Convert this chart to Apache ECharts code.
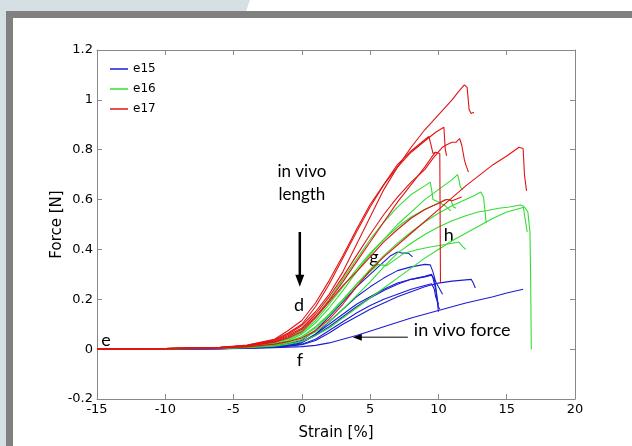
<!DOCTYPE html>
<html>
<head>
<meta charset="utf-8">
<script src="https://cdn.jsdelivr.net/npm/echarts/dist/echarts.min.js"></script>
<style>
  html, body { margin: 0; padding: 0; background: #fff; }
  #chart { width: 632px; height: 446px; }
</style>
</head>
<body>
<div id="chart"></div>
<script>
// tick values
const xTicks = [-15, -10, -5, 0, 5, 10, 15, 20];
const yTicks = [-0.2, 0, 0.2, 0.4, 0.6, 0.8, 1, 1.2];

// e15 curves [strain %, force N]
const b1 = [[-15,0],[-10,0.001],[-6,0.003],[-4,0.007],[-2,0.015],[-1,0.022],[0,0.035],[1,0.075],[2,0.13],[3,0.19],[4,0.25],[5,0.3],[6,0.35],[6.5,0.375],[7,0.39],[7.4,0.385],[7.8,0.385],[8.1,0.37]];
const b2 = [[-15,0],[-10,0.001],[-6,0.003],[-4,0.006],[-2,0.012],[-1,0.018],[0,0.03],[1,0.06],[2,0.1],[3,0.14],[4,0.18],[5,0.21],[6,0.24],[7,0.265],[8,0.28],[9,0.29],[9.5,0.297],[9.7,0.28],[9.8,0.25],[9.9,0.21],[10,0.17],[10.1,0.16]];
const b3 = [[-15,0],[-10,0.001],[-6,0.002],[-4,0.005],[-2,0.01],[-1,0.015],[0,0.025],[1,0.06],[2,0.11],[3,0.16],[4,0.21],[5,0.25],[6,0.285],[7,0.315],[8,0.33],[9,0.34],[9.4,0.338],[9.6,0.31],[9.8,0.27],[10,0.25],[10.3,0.22]];
const b4 = [[-15,0],[-10,0.001],[-6,0.002],[-4,0.004],[-2,0.008],[-1,0.012],[0,0.018],[1,0.035],[2,0.065],[3,0.1],[4,0.13],[5,0.16],[6,0.185],[7,0.21],[8,0.23],[9,0.25],[10,0.265],[11,0.273],[12,0.278],[12.4,0.28],[12.55,0.265],[12.7,0.245]];
const b5 = [[-15,0],[-10,0.001],[-6,0.002],[-4,0.003],[-2,0.006],[-1,0.008],[0,0.01],[1,0.015],[2,0.025],[3,0.04],[4,0.055],[6,0.09],[8,0.125],[10,0.155],[12,0.185],[14,0.21],[15,0.225],[16.2,0.24]];
const b6 = [[-15,0],[-10,0.001],[-6,0.002],[-4,0.005],[-2,0.01],[-1,0.014],[0,0.02],[1,0.04],[2,0.075],[3,0.11],[4,0.145],[5,0.175],[6,0.2],[7,0.22],[8,0.24],[9,0.255],[9.5,0.262],[9.7,0.24],[9.8,0.21],[10,0.18]];
const b7 = [[-15,0],[-10,0.001],[-6,0.003],[-4,0.006],[-2,0.012],[-1,0.018],[0,0.028],[1,0.055],[2,0.09],[3,0.13],[4,0.17],[5,0.205],[6,0.235],[7,0.26],[8,0.28],[9,0.292],[9.5,0.3],[9.6,0.285],[9.7,0.29],[9.8,0.24],[9.9,0.2],[10,0.15]];

// e16 curves
const g1 = [[-15,0],[-10,0.002],[-6,0.006],[-4,0.012],[-2,0.028],[-1,0.045],[0,0.075],[1,0.13],[2,0.2],[3,0.28],[4,0.36],[5,0.44],[6,0.51],[7,0.57],[8,0.62],[9,0.655],[9.4,0.67],[9.5,0.64],[9.6,0.6],[10,0.59],[10.5,0.575],[10.9,0.555]];
const g2 = [[-15,0],[-10,0.002],[-6,0.005],[-4,0.01],[-2,0.022],[-1,0.035],[0,0.06],[1,0.105],[2,0.165],[3,0.235],[4,0.31],[5,0.38],[6,0.44],[7,0.5],[8,0.55],[9,0.6],[10,0.64],[11,0.68],[11.4,0.7],[11.5,0.68],[11.6,0.65],[11.8,0.64]];
const g3 = [[-15,0],[-10,0.002],[-6,0.005],[-4,0.009],[-2,0.02],[-1,0.03],[0,0.05],[1,0.085],[2,0.135],[3,0.195],[4,0.26],[5,0.32],[6,0.375],[7,0.425],[8,0.47],[9,0.51],[10,0.545],[11,0.575],[12,0.6],[12.6,0.615],[13.1,0.63],[13.3,0.61],[13.4,0.56],[13.5,0.505]];
const g4 = [[-15,0],[-10,0.002],[-6,0.004],[-4,0.008],[-2,0.016],[-1,0.025],[0,0.04],[1,0.07],[2,0.11],[3,0.16],[4,0.215],[5,0.27],[6,0.33],[7,0.385],[8,0.425],[9,0.46],[10,0.49],[11,0.515],[12,0.535],[12.9,0.55],[13.5,0.555],[14.4,0.565],[15.2,0.57],[16,0.578],[16.2,0.575],[16.3,0.54],[16.5,0.47]];
const g5 = [[-15,0],[-10,0.001],[-6,0.003],[-4,0.006],[-2,0.012],[-1,0.02],[0,0.03],[1,0.055],[2,0.085],[3,0.125],[4,0.165],[5,0.205],[6,0.245],[7,0.285],[8,0.325],[9,0.365],[10,0.4],[11,0.435],[12,0.465],[13,0.495],[14,0.525],[15,0.55],[16,0.565],[16.3,0.57],[16.55,0.55],[16.7,0.47],[16.75,0.3],[16.8,0]];
const g6 = [[-15,0],[-10,0.002],[-6,0.005],[-4,0.01],[-2,0.02],[-1,0.032],[0,0.05],[1,0.09],[2,0.14],[3,0.2],[4,0.26],[5,0.31],[5.6,0.34],[6.2,0.335],[6.6,0.35],[7.5,0.385],[8.5,0.4],[9.4,0.41],[10.5,0.42],[11.5,0.43],[11.7,0.415],[12,0.4]];
const g7 = [[-15,0],[-10,0.002],[-6,0.006],[-4,0.012],[-2,0.026],[-1,0.04],[0,0.065],[1,0.115],[2,0.18],[3,0.25],[4,0.32],[5,0.385],[6,0.44],[7,0.49],[8,0.53],[9,0.56],[10,0.585],[10.5,0.6],[10.9,0.6],[11.1,0.57],[11.3,0.565]];

// e17 curves
const r1 = [[-15,0],[-10,0.002],[-6,0.006],[-4,0.014],[-2,0.035],[-1,0.06],[0,0.095],[1,0.15],[2,0.22],[3,0.31],[4,0.42],[5,0.53],[6,0.64],[7,0.73],[8,0.81],[9,0.88],[10,0.94],[11,1.0],[11.5,1.035],[11.9,1.06],[12.1,1.05],[12.25,0.96],[12.4,0.945],[12.6,0.95]];
const r2 = [[-15,0],[-10,0.002],[-6,0.007],[-4,0.016],[-2,0.04],[-1,0.075],[0,0.115],[1,0.185],[2,0.275],[3,0.375],[4,0.48],[5,0.58],[6,0.66],[7,0.73],[8,0.79],[9,0.835],[9.8,0.87],[10.4,0.89],[10.5,0.8],[10.6,0.775]];
const r3 = [[-15,0],[-10,0.002],[-6,0.006],[-4,0.015],[-2,0.038],[-1,0.065],[0,0.1],[1,0.17],[2,0.26],[3,0.365],[4,0.47],[5,0.57],[6,0.66],[7,0.74],[8,0.795],[9,0.84],[9.3,0.853],[9.45,0.82],[9.6,0.785],[9.8,0.79],[10.1,0.785],[10.15,0.265]];
const r4 = [[-15,0],[-10,0.001],[-6,0.004],[-4,0.009],[-2,0.02],[-1,0.03],[0,0.045],[1,0.075],[2,0.12],[3,0.18],[4,0.25],[5,0.315],[6,0.37],[8,0.465],[10,0.56],[12,0.655],[14,0.74],[15,0.775],[15.9,0.81],[16.2,0.805],[16.3,0.7],[16.45,0.635]];
const r5 = [[-15,0],[-10,0.002],[-6,0.005],[-4,0.012],[-2,0.028],[-1,0.045],[0,0.07],[1,0.125],[2,0.19],[3,0.255],[4,0.31],[5,0.37],[6,0.43],[7,0.48],[8,0.525],[9,0.56],[10,0.585],[10.6,0.6],[11,0.595],[11.7,0.61]];
const r6 = [[-15,0],[-10,0.002],[-6,0.006],[-4,0.013],[-2,0.032],[-1,0.055],[0,0.085],[1,0.14],[2,0.21],[3,0.29],[4,0.375],[5,0.46],[6,0.54],[7,0.61],[8,0.67],[9,0.72],[9.6,0.765],[10.3,0.81],[10.6,0.82],[11,0.83],[11.3,0.83],[11.55,0.845],[11.7,0.82],[11.9,0.76],[12,0.74],[12.2,0.71]];
const r7 = [[-15,0],[-10,0.002],[-6,0.006],[-4,0.013],[-2,0.03],[-1,0.05],[0,0.08],[1,0.13],[2,0.195],[3,0.27],[4,0.35],[5,0.43],[6,0.51],[7,0.59],[8,0.66],[9,0.73],[9.5,0.77],[9.8,0.79]];

// text notes in data coordinates
const noteText = ['e', 'd', 'f', 'g', 'h'];
const noteX = [-14.35, -0.2, -0.15, 5.27, 10.76];
const noteY = [0.036, 0.177, -0.044, 0.37, 0.458];

const tickFont = 'DejaVu Sans';
const noteFont = 'Lato';

const chart = echarts.init(document.getElementById('chart'));

function makeSeries(name, color, curves) {
  return curves.map(d => ({
    name: name,
    type: 'line',
    data: d,
    symbol: 'none',
    silent: true,
    lineStyle: { color: color, width: 1.1 },
    itemStyle: { color: color }
  }));
}

const fmt = v => String(Math.round(v * 10) / 10);

const axisCommon = {
  axisLine: { show: true, onZero: false, lineStyle: { color: '#888', width: 1 } },
  axisTick: { show: true, inside: true, length: 5, lineStyle: { color: '#888' } },
  splitLine: { show: false }
};

chart.setOption({
  animation: false,
  backgroundColor: '#fff',
  grid: { left: 97, top: 50, width: 478, height: 349, outerBoundsMode: 'none' },
  legend: {
    data: ['e15', 'e16', 'e17'],
    orient: 'vertical',
    left: 110,
    top: 62,
    padding: 0,
    icon: 'rect',
    itemWidth: 18,
    itemHeight: 1.5,
    itemGap: 6,
    textStyle: { fontFamily: tickFont, fontSize: 12, color: '#000', lineHeight: 14 }
  },
  xAxis: [
    Object.assign({
      type: 'value', min: -15, max: 20, interval: 5, position: 'bottom',
      axisLabel: { color: '#000', fontFamily: tickFont, fontSize: 13, margin: 4 },
      name: 'Strain [%]', nameLocation: 'middle', nameGap: 27, nameMoveOverlap: false,
      nameTextStyle: { color: '#000', fontFamily: tickFont, fontSize: 15 }
    }, axisCommon),
    Object.assign({
      type: 'value', min: -15, max: 20, interval: 5, position: 'top',
      axisLabel: { show: false }
    }, axisCommon)
  ],
  yAxis: [
    Object.assign({
      type: 'value', min: -0.2, max: 1.2, interval: 0.2, position: 'left',
      axisLabel: { color: '#000', fontFamily: tickFont, fontSize: 13, margin: 4, formatter: fmt },
      name: 'Force [N]', nameLocation: 'middle', nameGap: 32, nameMoveOverlap: false,
      nameTextStyle: { color: '#000', fontFamily: tickFont, fontSize: 15 }
    }, axisCommon),
    Object.assign({
      type: 'value', min: -0.2, max: 1.2, interval: 0.2, position: 'right',
      axisLabel: { show: false }
    }, axisCommon)
  ],
  series: [].concat(
    makeSeries('e15', '#1c1cd4', [b1, b2, b3, b4, b5, b6, b7]),
    makeSeries('e16', '#33dd33', [g1, g2, g3, g4, g5, g6, g7]),
    makeSeries('e17', '#e01414', [r1, r2, r3, r4, r5, r6, r7])
  )
});

// annotations placed through the axes
const px = (x, y) => chart.convertToPixel({ gridIndex: 0 }, [x, y]);
const graphics = [
  // page frame
  { type: 'polygon', silent: true, shape: { points: [[0, 0], [250, 0], [246, 11], [6, 11], [6, 446], [0, 446]] }, style: { fill: '#d5dfe4' } },
  { type: 'rect', silent: true, shape: { x: 6, y: 11, width: 626, height: 7 }, style: { fill: '#808080' } },
  { type: 'rect', silent: true, shape: { x: 6, y: 11, width: 7, height: 435 }, style: { fill: '#808080' } }
];
noteText.forEach((t, i) => {
  const p = px(noteX[i], noteY[i]);
  graphics.push({ type: 'text', silent: true, x: p[0], y: p[1],
    style: { text: t, font: '18px ' + noteFont, fill: '#000', align: 'center', verticalAlign: 'middle' } });
});
const lenPos = px(0, 0.667);
graphics.push({ type: 'text', silent: true, x: lenPos[0], y: lenPos[1],
  style: { text: 'in vivo\nlength', font: '17px ' + noteFont, lineHeight: 23, fill: '#000', align: 'center', verticalAlign: 'middle' } });
const forcePos = px(8.2, 0.076);
graphics.push({ type: 'text', silent: true, x: forcePos[0], y: forcePos[1],
  style: { text: 'in vivo force', font: '18px ' + noteFont, fill: '#000', align: 'left', verticalAlign: 'middle' } });
// down arrow
const a1 = px(-0.15, 0.47), a2 = px(-0.15, 0.25);
graphics.push({ type: 'line', silent: true, shape: { x1: a1[0], y1: a1[1], x2: a2[0], y2: a2[1] - 10 }, style: { stroke: '#000', lineWidth: 2.5 } });
graphics.push({ type: 'polygon', silent: true, shape: { points: [[a2[0] - 4.5, a2[1] - 12], [a2[0] + 4.5, a2[1] - 12], [a2[0], a2[1]]] }, style: { fill: '#000' } });
// left arrow
const c1 = px(7.76, 0.048), c2 = px(3.73, 0.048);
graphics.push({ type: 'line', silent: true, shape: { x1: c1[0], y1: c1[1], x2: c2[0] + 4, y2: c2[1] }, style: { stroke: '#000', lineWidth: 1 } });
graphics.push({ type: 'polygon', silent: true, shape: { points: [[c2[0] + 9, c2[1] - 3.5], [c2[0] + 9, c2[1] + 3.5], [c2[0], c2[1]]] }, style: { fill: '#000' } });
chart.setOption({ graphic: graphics });
</script>
</body>
</html>
